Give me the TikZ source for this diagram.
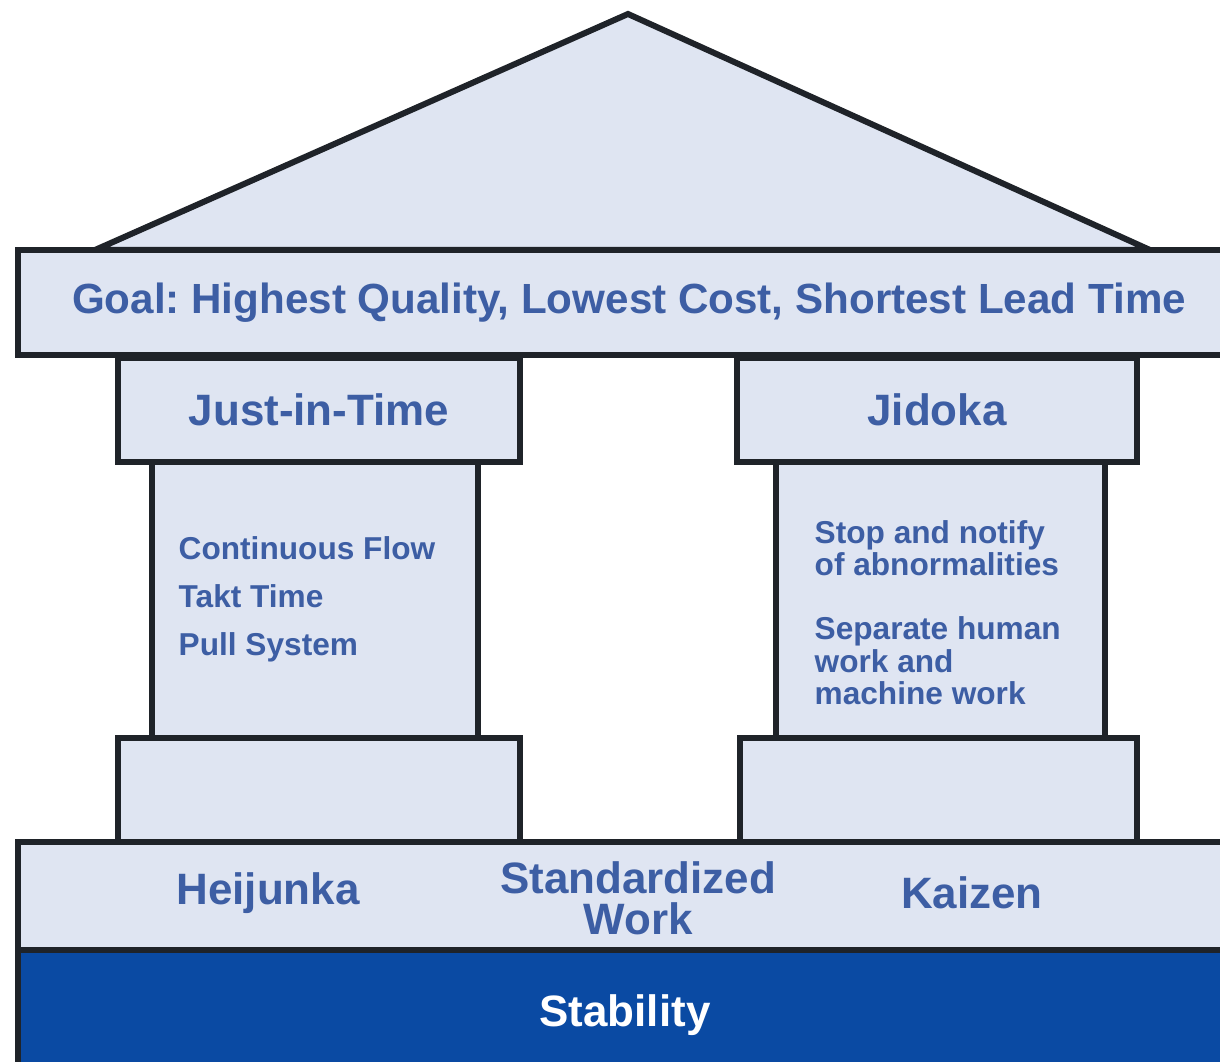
\documentclass[tikz,border=0pt]{standalone}
\usepackage{fontspec}
\setmainfont{Liberation Sans}
\usepackage{tikz}
\frenchspacing
\definecolor{slabfill}{HTML}{DFE5F2}
\definecolor{edgedark}{HTML}{1F2329}
\definecolor{inkblue}{HTML}{3D5EA4}
\definecolor{baseblue}{HTML}{0A4AA3}
\tikzstyle{slab}=[rectangle, draw=edgedark, fill=slabfill, line width=0.6mm, inner sep=0pt, text=inkblue, font=\bfseries\fontsize{12.5}{14}\selectfont]
\tikzstyle{pillarlist}=[anchor=north west, inner sep=0pt, align=left, text=inkblue, font=\bfseries\fontsize{9}{13.6}\selectfont]
\tikzstyle{baselabel}=[inner sep=0pt, align=center, text=inkblue, font=\bfseries\fontsize{12.5}{11.6}\selectfont]

\begin{document}
\begin{tikzpicture}
	\clip (0,0) rectangle (12.2,10.62);
	\coordinate (apex) at (6.28,10.48);
	\coordinate (eaveL) at (0.95,8.12);
	\coordinate (eaveR) at (11.50,8.12);
	\path[draw=edgedark, fill=slabfill, line width=0.6mm, line join=miter] (eaveL) -- (apex) -- (eaveR) -- cycle;
	\node[slab, minimum width=12.22cm, minimum height=1.05cm, font=\bfseries\fontsize{12}{14}\selectfont] (goal) at (6.29,7.595) {Goal: Highest Quality, Lowest Cost, Shortest Lead Time};
	\node[slab, minimum width=4.02cm, minimum height=1.04cm] (jitcap) at (3.19,6.52) {Just-in-Time};
	\node[slab, minimum width=3.26cm, minimum height=2.76cm] (jitshaft) at (3.15,4.62) {};
	\node[slab, minimum width=4.02cm, minimum height=1.04cm] (jitfoot) at (3.19,2.72) {};
	\node[slab, minimum width=4.00cm, minimum height=1.04cm] (jidcap) at (9.37,6.52) {Jidoka};
	\node[slab, minimum width=3.29cm, minimum height=2.76cm] (jidshaft) at (9.405,4.62) {};
	\node[slab, minimum width=3.97cm, minimum height=1.04cm] (jidfoot) at (9.385,2.72) {};
	\node[pillarlist] (jitlist) at (1.78,5.26) {Continuous Flow\\Takt Time\\Pull System};
	\node[pillarlist, font=\bfseries\fontsize{9}{9.2}\selectfont] (jidlist) at (8.14,5.42) {Stop and notify\\of abnormalities\\[9pt]Separate human\\work and\\machine work};
	\node[slab, minimum width=12.22cm, minimum height=1.08cm] (found) at (6.29,1.66) {};
	\node[slab, fill=baseblue, minimum width=12.22cm, minimum height=1.2cm] (stab) at (6.29,0.52) {};
	\node[baselabel] (heij) at (2.68,1.69) {Heijunka};
	\node[baselabel] (stdwork) at (6.38,1.64) {Standardized\\Work};
	\node[baselabel] (kaiz) at (9.72,1.69) {Kaizen};
	\node[baselabel, text=white] (stabtext) at (6.25,0.47) {Stability};
\end{tikzpicture}
\end{document}
